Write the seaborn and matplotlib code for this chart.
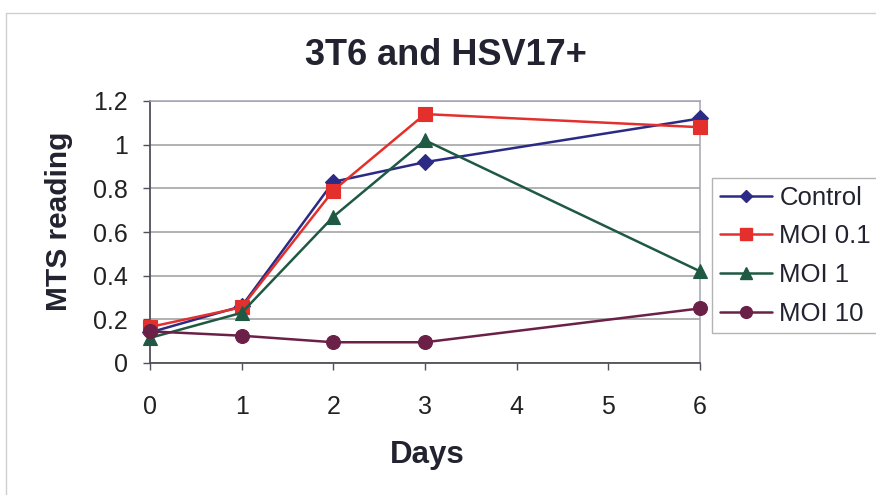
import matplotlib
matplotlib.use("Agg")
import matplotlib.pyplot as plt
import seaborn as sns
import pandas as pd
from matplotlib.lines import Line2D

# Days sampled and MTS readings per treatment
days = [0, 1, 2, 3, 6]
control = [0.14, 0.26, 0.83, 0.92, 1.12]
moi_01 = [0.165, 0.255, 0.79, 1.14, 1.08]
moi_1 = [0.115, 0.23, 0.67, 1.02, 0.42]
moi_10 = [0.145, 0.125, 0.095, 0.095, 0.25]

series_names = ["Control", "MOI 0.1", "MOI 1", "MOI 10"]
series_values = [control, moi_01, moi_1, moi_10]

x_ticks = [0, 1, 2, 3, 4, 5, 6]
y_ticks = [0, 0.2, 0.4, 0.6, 0.8, 1.0, 1.2]
y_tick_labels = ["0", "0.2", "0.4", "0.6", "0.8", "1", "1.2"]

colors = {"Control": "#2b2b85", "MOI 0.1": "#e3302c",
          "MOI 1": "#1f5944", "MOI 10": "#6b2047"}
markers = {"Control": "D", "MOI 0.1": "s", "MOI 1": "^", "MOI 10": "o"}
msizes = {"Control": 8, "MOI 0.1": 10, "MOI 1": 10.5, "MOI 10": 10}

rows = []
for name, vals in zip(series_names, series_values):
    for d, v in zip(days, vals):
        rows.append({"Days": d, "MTS": v, "Series": name})
df = pd.DataFrame(rows)

sns.set_theme(style="white")
plt.rcParams["font.family"] = ["Liberation Sans", "DejaVu Sans"]

W, H = 876, 495
fig = plt.figure(figsize=(W / 100, H / 100), dpi=100)
fig.patch.set_facecolor("white")
ax = fig.add_axes([150 / W, 1 - 363 / H, 550 / W, 262 / H])

sns.lineplot(data=df, x="Days", y="MTS", hue="Series", style="Series",
             palette=colors, markers=markers, dashes=False, linewidth=1.8,
             ax=ax, legend=False, zorder=3)

# per-series marker size and edge colour
for line, name in zip(ax.get_lines(), series_names):
    line.set_markersize(msizes[name])
    line.set_markeredgecolor(colors[name])
    line.set_markeredgewidth(0.8)
    line.set_clip_on(False)

ax.set_xlim(0, 6)
ax.set_ylim(0, 1.2)
ax.set_xticks(x_ticks)
ax.set_xticklabels([str(t) for t in x_ticks], fontsize=18)
ax.set_yticks(y_ticks)
ax.set_yticklabels(y_tick_labels, fontsize=18)
ax.yaxis.grid(True, color="#9c9c9c", linewidth=1.1)
ax.set_axisbelow(True)

for side in ["top", "right"]:
    ax.spines[side].set_color("#a4a4b4")
    ax.spines[side].set_linewidth(1.1)
for side in ["left", "bottom"]:
    ax.spines[side].set_color("#50505c")
    ax.spines[side].set_linewidth(1.3)
ax.tick_params(axis="both", direction="out", length=5, width=1.0,
               color="#50505c", bottom=True, left=True)
ax.tick_params(axis="x", pad=18)
ax.tick_params(axis="y", pad=11)
for lbl in ax.get_xticklabels() + ax.get_yticklabels():
    lbl.set_color("#222222")

ax.set_xlabel("")
ax.set_ylabel("")
fig.text(427 / W, 1 - 463 / H, "Days", fontsize=22.5, fontweight="bold",
         color="#222230", ha="center", va="baseline")
fig.text(59 / W, 1 - 221 / H, "MTS reading", fontsize=21.5, fontweight="bold",
         color="#222230", ha="center", va="center", rotation=90)
fig.text(446 / W, 1 - 65 / H, "3T6 and HSV17+", fontsize=26, fontweight="bold",
         color="#222230", ha="center", va="baseline")

# legend with line + marker samples
handles = [Line2D([], [], color=colors[n], marker=markers[n],
                  markersize=msizes[n] - 1.5, markeredgecolor=colors[n],
                  linewidth=1.8) for n in series_names]
leg = fig.legend(handles, series_names, loc="upper left",
                 bbox_to_anchor=(712 / W, 1 - 178 / H),
                 fontsize=18.5, frameon=True, fancybox=False, handlelength=2.05,
                 handletextpad=0.27, labelspacing=0.57, borderpad=0.3,
                 borderaxespad=0.0)
leg.get_frame().set_edgecolor("#a0a0a0")
leg.get_frame().set_linewidth(1.0)
for t in leg.get_texts():
    t.set_color("#222230")

# faint chart-area border along the top and left
fig.add_artist(Line2D([6 / W, 1.0], [1 - 13 / H, 1 - 13 / H],
                      transform=fig.transFigure, color="#cfcfcf", linewidth=1.0))
fig.add_artist(Line2D([6 / W, 6 / W], [0.0, 1 - 13 / H],
                      transform=fig.transFigure, color="#cfcfcf", linewidth=1.0))

fig.savefig("out.png", dpi=100)
